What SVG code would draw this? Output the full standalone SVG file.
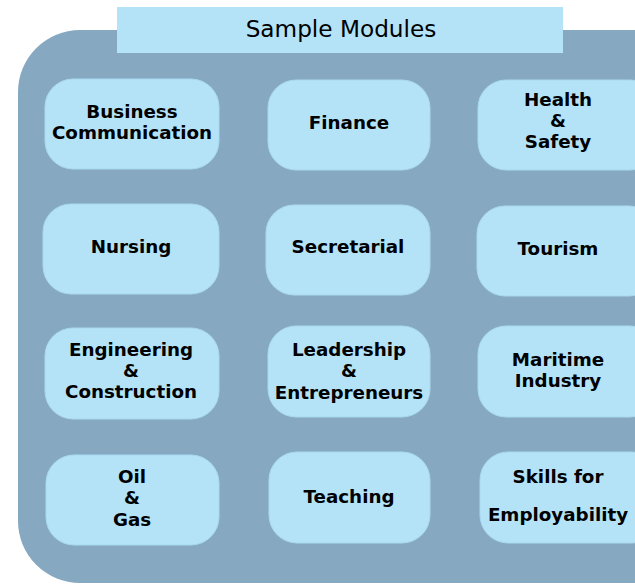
<svg xmlns="http://www.w3.org/2000/svg" width="635" height="585" viewBox="0 0 635 585">
<style>
.bg{fill:#86a9c1}
.node{fill:#b4e3f8;stroke:#a9d9ef;stroke-width:1}
.t{font-family:"DejaVu Sans",Verdana,sans-serif;font-weight:bold;font-size:18.3px;fill:#000;text-anchor:middle}
.title{font-family:"DejaVu Sans",Verdana,sans-serif;font-size:23.2px;fill:#000;text-anchor:middle}
</style>
<rect class="bg" x="18" y="30" width="680" height="553" rx="62" ry="62"/>
<g id="title">
<rect x="117" y="7" width="446" height="46" fill="#b4e3f8"/>
<text class="title" x="341" y="37">Sample Modules</text>
</g>
<g id="business">
<rect class="node" x="45" y="79" width="174" height="90" rx="28"/>
<text class="t" x="132" y="118">Business</text>
<text class="t" x="132" y="139">Communication</text>
</g>
<g id="finance">
<rect class="node" x="268" y="80" width="162" height="90" rx="28"/>
<text class="t" x="349" y="129">Finance</text>
</g>
<g id="health">
<rect class="node" x="478" y="80" width="180" height="90" rx="28"/>
<text class="t" x="558" y="106">Health</text>
<text class="t" x="558" y="127">&amp;</text>
<text class="t" x="558" y="148">Safety</text>
</g>
<g id="nursing">
<rect class="node" x="43" y="204" width="176" height="90" rx="28"/>
<text class="t" x="131" y="253">Nursing</text>
</g>
<g id="secretarial">
<rect class="node" x="266" y="205" width="164" height="90" rx="28"/>
<text class="t" x="348" y="253">Secretarial</text>
</g>
<g id="tourism">
<rect class="node" x="477" y="206" width="180" height="90" rx="28"/>
<text class="t" x="558" y="255">Tourism</text>
</g>
<g id="engineering">
<rect class="node" x="45" y="328" width="174" height="91" rx="28"/>
<text class="t" x="131" y="356">Engineering</text>
<text class="t" x="131" y="377">&amp;</text>
<text class="t" x="131" y="398">Construction</text>
</g>
<g id="leadership">
<rect class="node" x="268" y="326" width="162" height="91" rx="28"/>
<text class="t" x="349" y="356">Leadership</text>
<text class="t" x="349" y="377">&amp;</text>
<text class="t" x="349" y="399">Entrepreneurs</text>
</g>
<g id="maritime">
<rect class="node" x="478" y="326" width="180" height="91" rx="28"/>
<text class="t" x="558" y="366">Maritime</text>
<text class="t" x="558" y="387">Industry</text>
</g>
<g id="oilgas">
<rect class="node" x="46" y="455" width="173" height="90" rx="28"/>
<text class="t" x="132" y="483">Oil</text>
<text class="t" x="132" y="504">&amp;</text>
<text class="t" x="132" y="526">Gas</text>
</g>
<g id="teaching">
<rect class="node" x="269" y="452" width="161" height="91" rx="28"/>
<text class="t" x="349" y="503">Teaching</text>
</g>
<g id="skills">
<rect class="node" x="480" y="452" width="180" height="91" rx="28"/>
<text class="t" x="558" y="483">Skills for</text>
<text class="t" x="558" y="521">Employability</text>
</g>
<g id="connectors"></g>
</svg>
